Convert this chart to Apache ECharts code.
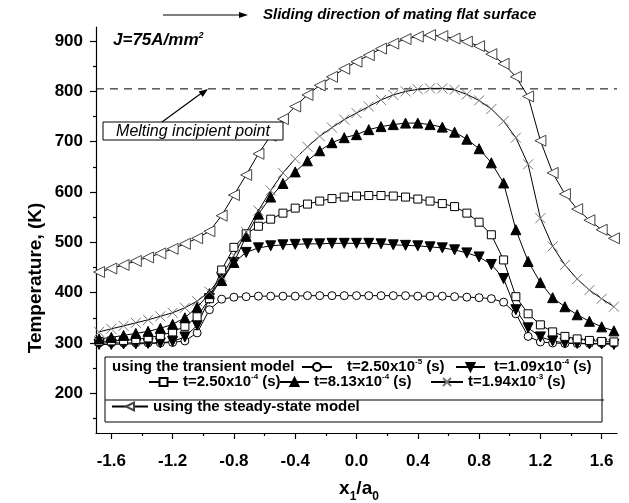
<!DOCTYPE html>
<html>
<head>
<meta charset="utf-8">
<script src="https://cdn.jsdelivr.net/npm/echarts@6/dist/echarts.min.js"></script>
<style>
html, body { margin: 0; padding: 0; background: #fff; }
#chart { width: 629px; height: 503px; }
</style>
</head>
<body>
<div id="chart"></div>
<script>
// x1/a0 positions of the computed points
var xs = [-1.68, -1.60, -1.52, -1.44, -1.36, -1.28, -1.20, -1.12, -1.04, -0.96, -0.88,
  -0.80, -0.72, -0.64, -0.56, -0.48, -0.40, -0.32, -0.24, -0.16, -0.08, 0,
  0.08, 0.16, 0.24, 0.32, 0.40, 0.48, 0.56, 0.64, 0.72, 0.80, 0.88,
  0.96, 1.04, 1.12, 1.20, 1.28, 1.36, 1.44, 1.52, 1.60, 1.68];

// transient model, t = 2.50x10^-5 s
var t1 = [300, 300, 300, 300, 300, 300, 301, 304, 320, 366, 387,
  391, 392, 393, 393, 393, 393, 394, 394, 394, 394, 394,
  394, 394, 394, 394, 393, 393, 393, 392, 391, 390, 388,
  381, 358, 313, 302, 300, 299, 299, 299, 299, 299];
// t = 1.09x10^-4 s
var t2 = [297, 297, 298, 298, 299, 300, 303, 312, 335, 388, 430,
  460, 480, 489, 493, 495, 496, 497, 497, 498, 498, 498,
  498, 497, 495, 494, 493, 491, 489, 485, 479, 471, 456,
  428, 366, 330, 312, 304, 300, 299, 298, 298, 297];
// t = 2.50x10^-4 s
var t3 = [303, 304, 305, 307, 310, 315, 322, 333, 352, 388, 445,
  490, 517, 532, 546, 558, 568, 576, 582, 587, 590, 592,
  593, 593, 592, 590, 586, 582, 577, 571, 558, 540, 515,
  465, 392, 358, 336, 322, 313, 308, 305, 303, 302];
// t = 8.13x10^-4 s
var t4 = [308, 311, 315, 319, 323, 329, 337, 350, 371, 398, 424,
  460, 512, 556, 590, 617, 640, 662, 682, 698, 708, 714,
  724, 730, 734, 737, 737, 734, 729, 719, 705, 686, 658,
  618, 525, 462, 420, 390, 372, 356, 343, 332, 324];
// t = 1.94x10^-3 s
var t5 = [322, 328, 334, 340, 346, 353, 360, 370, 383, 402, 432,
  474, 520, 563, 603, 638, 666, 690, 711, 728, 744, 757,
  770, 783, 793, 800, 804, 806, 806, 803, 794, 782, 765,
  741, 708, 655, 548, 492, 455, 427, 405, 388, 372];
// steady-state model
var steady = [441, 448, 455, 463, 470, 478, 487, 497, 508, 522, 553,
  594, 634, 676, 712, 745, 770, 793, 812, 829, 845, 859,
  872, 885, 895, 904, 909, 912, 910, 905, 899, 890, 874,
  855, 829, 790, 702, 638, 596, 566, 544, 525, 508];

var meltT = 805;
var xRange = [-1.7, 1.7];
var xTicks = [-1.6, -1.2, -0.8, -0.4, 0, 0.4, 0.8, 1.2, 1.6];
var xMinor = [-1.4, -1.0, -0.6, -0.2, 0.2, 0.6, 1.0, 1.4];
var yTicks = [200, 300, 400, 500, 600, 700, 800, 900];
var yMinor = [150, 250, 350, 450, 550, 650, 750, 850];

var FONT = 'Liberation Sans, Arial, sans-serif';

function pairs(v) {
  return xs.map(function (x, i) { return [x, v[i]]; });
}

var seriesDefs = [
  { name: 't1', data: t1, symbol: 'circle', size: 8, fill: '#fff', stroke: '#000', rot: 0, sup: '-5', txt: 't=2.50x10' },
  { name: 't2', data: t2, symbol: 'triangle', size: 10, fill: '#000', stroke: '#000', rot: 180, sup: '-4', txt: 't=1.09x10' },
  { name: 't3', data: t3, symbol: 'rect', size: 8, fill: '#fff', stroke: '#000', rot: 0, sup: '-4', txt: 't=2.50x10' },
  { name: 't4', data: t4, symbol: 'triangle', size: 10, fill: '#000', stroke: '#000', rot: 0, sup: '-4', txt: 't=8.13x10' },
  { name: 't5', data: t5, symbol: 'path://M0,0L10,10M10,0L0,10', size: 10, fill: 'none', stroke: '#777', rot: 0, sup: '-3', txt: 't=1.94x10' },
  { name: 'steady', data: steady, symbol: 'triangle', size: 11, fill: '#fff', stroke: '#444', rot: 90, sup: null, txt: 'using the steady-state model' }
];

var series = seriesDefs.map(function (d) {
  return {
    name: d.name,
    type: 'line',
    data: pairs(d.data),
    symbol: d.symbol,
    symbolSize: d.size,
    symbolRotate: d.rot,
    showAllSymbol: true,
    lineStyle: { color: '#000', width: 1 },
    itemStyle: { color: d.fill, borderColor: d.stroke, borderWidth: 1 },
    emphasis: { disabled: true },
    z: 3
  };
});

series.push({
  name: 'melt',
  type: 'line',
  data: [[xRange[0], meltT], [xRange[1], meltT]],
  symbol: 'none',
  lineStyle: { color: '#000', width: 1, type: [8, 6] },
  emphasis: { disabled: true },
  z: 2
});

var legendLabel = {};
seriesDefs.forEach(function (d) { legendLabel[d.name] = d; });

// one legend block per entry: [name, left, top, itemWidth, gap]
var legendPlaces = [
  ['t1', 301, 358, 30, 10],
  ['t2', 455, 358, 29, 4],
  ['t3', 148, 373, 29, 0],
  ['t4', 279, 373, 29, 0],
  ['t5', 430, 373, 32, 0],
  ['steady', 111, 399, 36, 0]
];

var legends = legendPlaces.map(function (p) {
  return {
    data: [p[0]],
    left: p[1],
    top: p[2],
    itemWidth: p[3],
    itemHeight: 10,
    padding: 0,
    selectedMode: false,
    formatter: function (name) {
      var d = legendLabel[name];
      var s = '{g' + p[4] + '|}{n|' + d.txt + '}';
      if (d.sup) s += '{s|' + d.sup + '}{n| (s)}';
      return s;
    },
    textStyle: {
      fontFamily: FONT, fontSize: 15, fontWeight: 'bold', color: '#000',
      rich: (function () {
        var r = {
          n: { fontFamily: FONT, fontSize: 15, fontWeight: 'bold', color: '#000', lineHeight: 18 },
          s: { fontFamily: FONT, fontSize: 8, fontWeight: 'bold', color: '#000', verticalAlign: 'top', lineHeight: 10 }
        };
        r['g' + p[4]] = { width: p[4] };
        return r;
      })()
    }
  };
});

function arrowHead(x1, y1, x2, y2, len, half) {
  var a = Math.atan2(y2 - y1, x2 - x1);
  var bx = x2 - len * Math.cos(a), by = y2 - len * Math.sin(a);
  return [[x2, y2],
    [bx + half * Math.sin(a), by - half * Math.cos(a)],
    [bx - half * Math.sin(a), by + half * Math.cos(a)]];
}

var graphics = [
  // sliding direction arrow
  { type: 'line', shape: { x1: 163, y1: 15, x2: 240, y2: 15 }, style: { stroke: '#000', lineWidth: 1.2 }, z: 10 },
  { type: 'polygon', shape: { points: arrowHead(163, 15, 248, 15, 9, 3) }, style: { fill: '#000' }, z: 10 },
  { type: 'text', x: 263, y: 15, style: { text: 'Sliding direction of mating flat surface', font: 'italic bold 15px ' + FONT, fill: '#000', verticalAlign: 'middle' }, z: 10 },
  // current density
  { type: 'text', x: 113, y: 40, style: {
    text: '{a|J=75A/mm}{b|2}', verticalAlign: 'middle', fill: '#000',
    rich: { a: { font: 'italic bold 17px ' + FONT, fill: '#000' }, b: { font: 'italic bold 9px ' + FONT, fill: '#000', verticalAlign: 'top' } }
  }, z: 10 },
  // melting annotation
  { type: 'line', shape: { x1: 162, y1: 122, x2: 203, y2: 92 }, style: { stroke: '#000', lineWidth: 1.2 }, z: 10 },
  { type: 'polygon', shape: { points: arrowHead(162, 122, 208, 89, 9, 3.5) }, style: { fill: '#000' }, z: 10 },
  { type: 'rect', shape: { x: 103, y: 122, width: 180, height: 18 }, style: { fill: '#fff', stroke: '#000', lineWidth: 1 }, z: 10 },
  { type: 'text', x: 193, y: 131.5, style: { text: 'Melting incipient point', font: 'italic 16px ' + FONT, fill: '#000', align: 'center', verticalAlign: 'middle' }, z: 11 },
  // legend frame
  { type: 'rect', shape: { x: 105, y: 357, width: 497, height: 65 }, style: { fill: '#fff', stroke: '#000', lineWidth: 1 }, z: 0 },
  { type: 'line', shape: { x1: 105, y1: 400, x2: 604, y2: 400 }, style: { stroke: '#000', lineWidth: 1 }, z: 1 },
  { type: 'text', x: 112, y: 367, style: { text: 'using the transient model', font: 'bold 15px ' + FONT, fill: '#000', verticalAlign: 'middle' }, z: 10 },
  // axis titles
  { type: 'text', x: 36, y: 278, rotation: Math.PI / 2, style: { text: 'Temperature, (K)', font: 'bold 19px ' + FONT, fill: '#000', align: 'center', verticalAlign: 'middle' }, z: 10 },
  { type: 'text', x: 359, y: 489, style: {
    text: '{a|x}{b|1}{a|/a}{b|0}', align: 'center', verticalAlign: 'middle', fill: '#000',
    rich: { a: { font: 'bold 19px ' + FONT, fill: '#000' }, b: { font: 'bold 12px ' + FONT, fill: '#000', verticalAlign: 'bottom', padding: [0, 0, -4, 0] } }
  }, z: 10 }
];

var chart = echarts.init(document.getElementById('chart'), null, { renderer: 'canvas' });
chart.setOption({
  animation: false,
  backgroundColor: '#fff',
  grid: { left: 96, right: 12, top: 27, bottom: 70 },
  xAxis: [
    {
      type: 'value', min: xRange[0], max: xRange[1], position: 'bottom',
      axisLine: { onZero: false, lineStyle: { color: '#000', width: 1.2 } },
      axisTick: { customValues: xTicks, length: 6, lineStyle: { color: '#000', width: 1.2 } },
      axisLabel: {
        customValues: xTicks, margin: 20, color: '#000', fontFamily: FONT, fontSize: 17, fontWeight: 'bold',
        formatter: function (v) { return v.toFixed(1); }
      },
      splitLine: { show: false }
    },
    {
      type: 'value', min: xRange[0], max: xRange[1], position: 'bottom', offset: 0,
      axisLine: { show: false, onZero: false },
      axisTick: { customValues: xMinor, length: 3, lineStyle: { color: '#000', width: 1.2 } },
      axisLabel: { show: false },
      splitLine: { show: false }
    }
  ],
  yAxis: [
    {
      type: 'value', min: 121, max: 928, position: 'left',
      axisLine: { show: true, onZero: false, lineStyle: { color: '#000', width: 1.2 } },
      axisTick: { show: true, customValues: yTicks, length: 6, lineStyle: { color: '#000', width: 1.2 } },
      axisLabel: { customValues: yTicks, margin: 13, color: '#000', fontFamily: FONT, fontSize: 17, fontWeight: 'bold' },
      splitLine: { show: false }
    },
    {
      type: 'value', min: 121, max: 928, position: 'left', offset: 0,
      axisLine: { show: false, onZero: false },
      axisTick: { show: true, customValues: yMinor, length: 3, lineStyle: { color: '#000', width: 1.2 } },
      axisLabel: { show: false },
      splitLine: { show: false }
    }
  ],
  legend: legends,
  series: series,
  graphic: graphics
});
</script>
</body>
</html>
